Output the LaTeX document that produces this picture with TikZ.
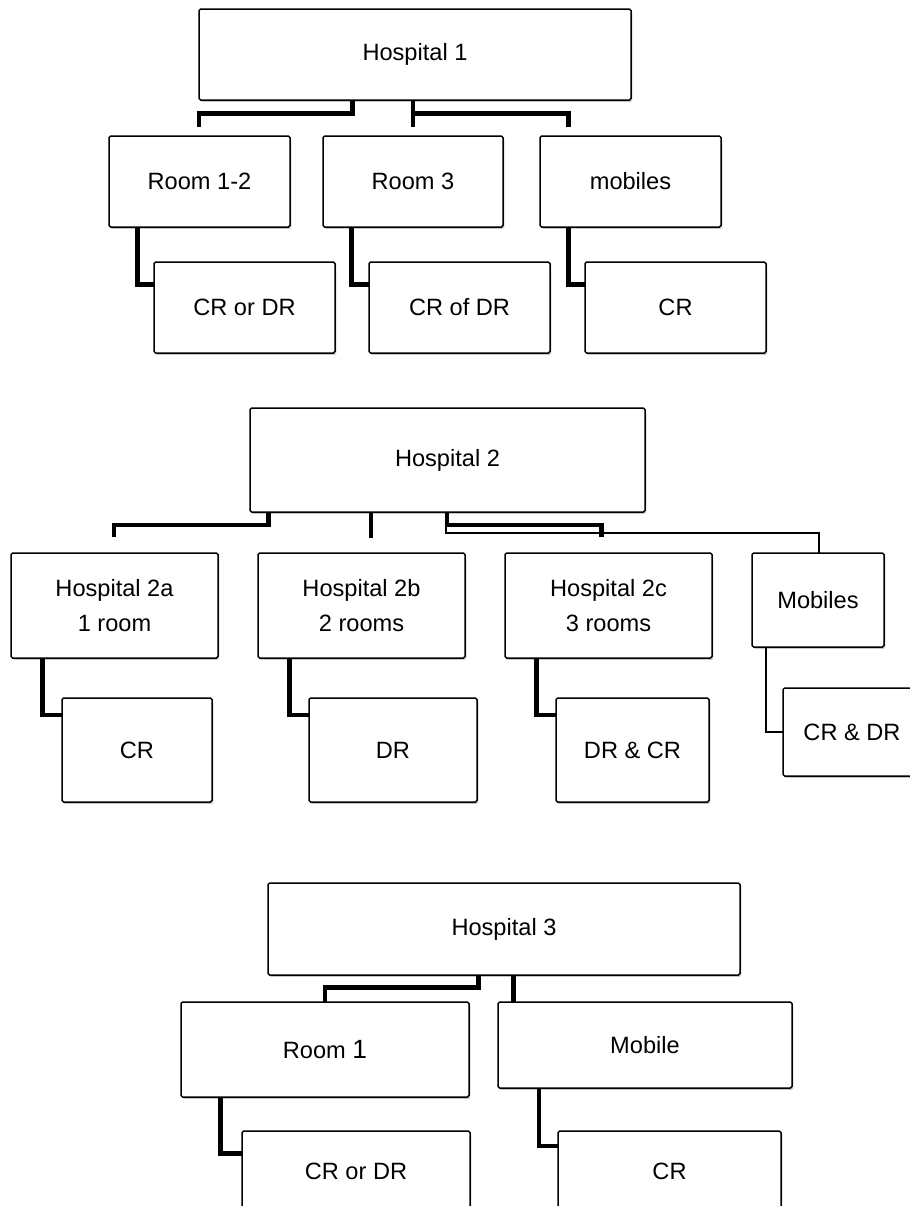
\documentclass[tikz,border=0pt]{standalone}
\usepackage{fontspec}
\setmainfont{Liberation Sans}
\usetikzlibrary{shadows}
\newcommand{\mkbox}[6]{\node[box, anchor=north west, minimum width={(#4-#2)*0.5pt}, minimum height={(#5-#3)*0.5pt}] (#1) at (#2,#3) {#6};}
\begin{document}
\begin{tikzpicture}[x=0.5pt,y=-0.5pt,
  box/.style={draw=black, line width=0.75pt, fill=white, rounded corners=0.8pt, inner sep=0pt, outer sep=0pt, align=center,
    font=\fontsize{11.8}{17.5}\selectfont,
    drop shadow={shadow xshift=0.7pt, shadow yshift=-0.9pt, opacity=0.22, fill=black}},
  thickc/.style={draw=black, line width=2.35pt, line join=miter},
  thinc/.style={draw=black, line width=1.1pt, line join=miter}]
\useasboundingbox (0,0) rectangle (910,1206);
\fill[white] (0,0) rectangle (910,1206);
\clip (0,0) rectangle (910,1206);

% ---------- Hospital 1 ----------
\mkbox{h1}{199}{9}{631}{100}{Hospital 1}
\mkbox{r12}{109}{136}{290}{227}{Room 1-2}
\mkbox{r3}{323}{136}{503}{227}{Room 3}
\mkbox{m1}{540}{136}{721}{227}{mobiles}
\mkbox{c12}{154}{262}{335}{353}{CR or DR}
\mkbox{c3}{369}{262}{550}{353}{CR of DR}
\mkbox{cm1}{585}{262}{766}{353}{CR}

\coordinate (a1) at (199,126.7);
\coordinate (a2) at (413,126.7);
\coordinate (a3) at (568.3,126.7);
\draw[thickc] (352.8,0 |- h1.south) |- (199,113.3) -- (a1);
\draw[thickc] (413,0 |- h1.south) -- (a2);
\draw[thickc] (413,113.3) -| (a3);
\draw[thickc] (137.7,0 |- r12.south) |- (c12.west |- 0,284.5);
\draw[thickc] (351.7,0 |- r3.south) |- (c3.west |- 0,284.5);
\draw[thickc] (568.3,0 |- m1.south) |- (cm1.west |- 0,284.5);

% ---------- Hospital 2 ----------
\mkbox{h2}{250}{408}{645}{512}{Hospital 2}
\mkbox{h2a}{11}{553}{218}{658}{Hospital 2a\\1 room}
\mkbox{h2b}{258}{553}{465}{658}{Hospital 2b\\2 rooms}
\mkbox{h2c}{505}{553}{712}{658}{Hospital 2c\\3 rooms}
\mkbox{m2}{752}{553}{884}{647}{Mobiles}
\mkbox{ca}{62}{698}{212}{802}{CR}
\mkbox{cb}{309}{698}{477}{802}{DR}
\mkbox{cc}{556}{698}{709}{802}{DR \& CR}
\mkbox{cm2}{783}{688}{921}{776}{CR \& DR}

\coordinate (b1) at (114,537.3);
\coordinate (b2) at (371,538);
\coordinate (b3) at (601.7,537);
\draw[thickc] (268.3,0 |- h2.south) |- (114,525) -- (b1);
\draw[thickc] (371,0 |- h2.south) -- (b2);
\draw[thinc] (446,0 |- h2.south) |- (819,533) -- (819,0 |- m2.north);
\draw[thickc] (447,0 |- h2.south) |- (601.7,525) -- (b3);
\draw[thickc] (42.3,0 |- h2a.south) |- (ca.west |- 0,715);
\draw[thickc] (289.7,0 |- h2b.south) |- (cb.west |- 0,715);
\draw[thickc] (536.7,0 |- h2c.south) |- (cc.west |- 0,715);
\draw[thinc] (766,0 |- m2.south) |- (cm2.west |- 0,732);

% ---------- Hospital 3 ----------
\mkbox{h3}{268}{883}{740}{975}{Hospital 3}
\mkbox{r1}{181}{1002}{469}{1097}{Room {\fontsize{13.2}{13.2}\selectfont 1}}
\mkbox{mob3}{498}{1002}{792}{1088}{Mobile}
\mkbox{c31}{242}{1131}{470}{1211}{CR or DR}
\mkbox{cm3}{558}{1131}{781}{1211}{CR}

\draw[thickc] (478.7,0 |- h3.south) |- (325,987.5) -- (325,0 |- r1.north);
\draw[thickc] (513.5,0 |- h3.south) -- (513.5,0 |- mob3.north);
\draw[thickc] (220.6,0 |- r1.south) |- (c31.west |- 0,1153.5);
\draw[thickc] (539,0 |- mob3.south) |- (cm3.west |- 0,1146);
\end{tikzpicture}
\end{document}
